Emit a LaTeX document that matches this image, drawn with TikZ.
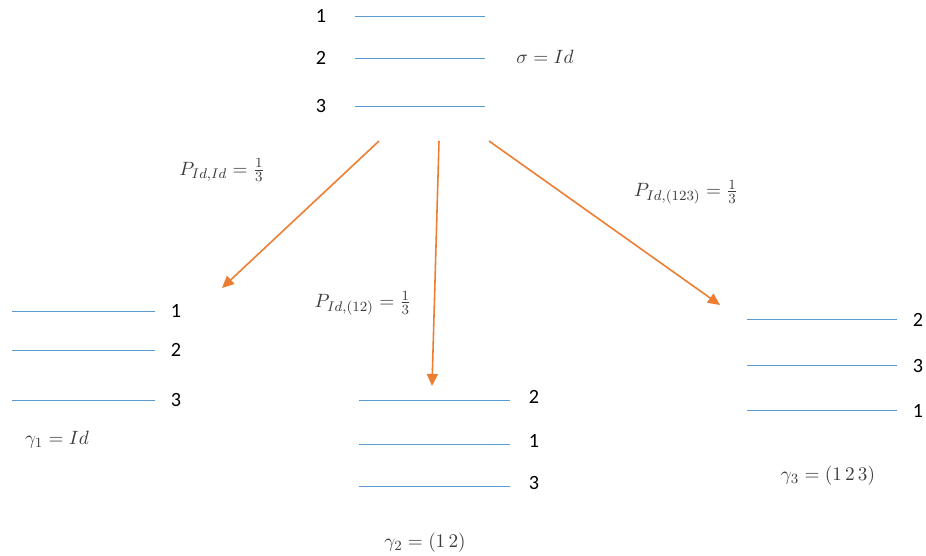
\documentclass[tikz,border=0pt]{standalone}
\usepackage{amsmath}
\usepackage{fontspec}
\newfontfamily\digitfont{Carlito}
\usepackage{tikz}
\usetikzlibrary{positioning, arrows.meta, calc}

\definecolor{levelblue}{RGB}{91,155,213}
\definecolor{arroworange}{RGB}{237,125,49}
\definecolor{mathgray}{RGB}{60,60,60}

\begin{document}
\begin{tikzpicture}[
        x=0.02cm,
        y=-0.02cm,
        level/.style={
            levelblue,
            line width=0.45pt
        },
        digit/.style={
            font=\digitfont\fontsize{11.5}{13}\selectfont,
            inner sep=1pt
        },
        perm/.style={
            text=mathgray,
            font=\fontsize{11}{13}\selectfont,
            inner sep=1pt
        },
        move/.style={
            arroworange,
            line width=0.9pt,
            -{Triangle[length=2.4mm,width=2.2mm]}
        }
    ]

    \useasboundingbox (0,0) rectangle (926,555);

    % --------------------------------------------------------
    % Starting arrangement
    % --------------------------------------------------------

    \foreach \y/\d in {16/1,58/2,106/3} {
        \draw[
            level
        ]
        (355,\y) -- (485,\y);

        \node[
            digit
        ]
        (top\d)
        at (321,\y) {\d};
    }

    \node[
        perm
    ]
    (sigma)
    at (545,57)
    {$\sigma = Id$};

    % --------------------------------------------------------
    % Left arrangement
    % --------------------------------------------------------

    \foreach \y/\d in {311/1,350/2,400/3} {
        \draw[
            level
        ]
        (12,\y) -- (155,\y);

        \node[
            digit
        ]
        (left\d)
        at (176,\y) {\d};
    }

    \node[
        perm
    ]
    (gammaone)
    at (57,440)
    {$\gamma_1 = Id$};

    % --------------------------------------------------------
    % Middle arrangement
    % --------------------------------------------------------

    \foreach \y/\d in {400/2,444/1,486/3} {
        \draw[
            level
        ]
        (359,\y) -- (510,\y);

        \node[
            digit
        ]
        (mid\d)
        at (534,\y-3) {\d};
    }

    \node[
        perm
    ]
    (gammatwo)
    at (425,543)
    {$\gamma_2 = (1\,2)$};

    % --------------------------------------------------------
    % Right arrangement
    % --------------------------------------------------------

    \foreach \y/\d in {319/2,365/3,410/1} {
        \draw[
            level
        ]
        (747,\y) -- (897,\y);

        \node[
            digit
        ]
        (right\d)
        at (918,\y+1) {\d};
    }

    \node[
        perm
    ]
    (gammathree)
    at (828,476)
    {$\gamma_3 = (1\,2\,3)$};

    % --------------------------------------------------------
    % Transitions
    % --------------------------------------------------------

    \coordinate (startleft) at (379,141);
    \coordinate (startmid) at (439,141);
    \coordinate (startright) at (489,141);

    \coordinate (endleft) at (222,288);
    \coordinate (endmid) at (432,386);
    \coordinate (endright) at (720,305);

    \draw[
        move
    ]
    (startleft) -- (endleft);

    \draw[
        move
    ]
    (startmid) -- (endmid);

    \draw[
        move
    ]
    (startright) -- (endright);

    % --------------------------------------------------------
    % Probabilities
    % --------------------------------------------------------

    \node[
        perm
    ]
    (pleft)
    at (222,170)
    {$P_{Id,Id} = \frac{1}{3}$};

    \node[
        perm
    ]
    (pmid)
    at (363,303)
    {$P_{Id,(12)} = \frac{1}{3}$};

    \node[
        perm
    ]
    (pright)
    at (686,192)
    {$P_{Id,(123)} = \frac{1}{3}$};

\end{tikzpicture}
\end{document}
